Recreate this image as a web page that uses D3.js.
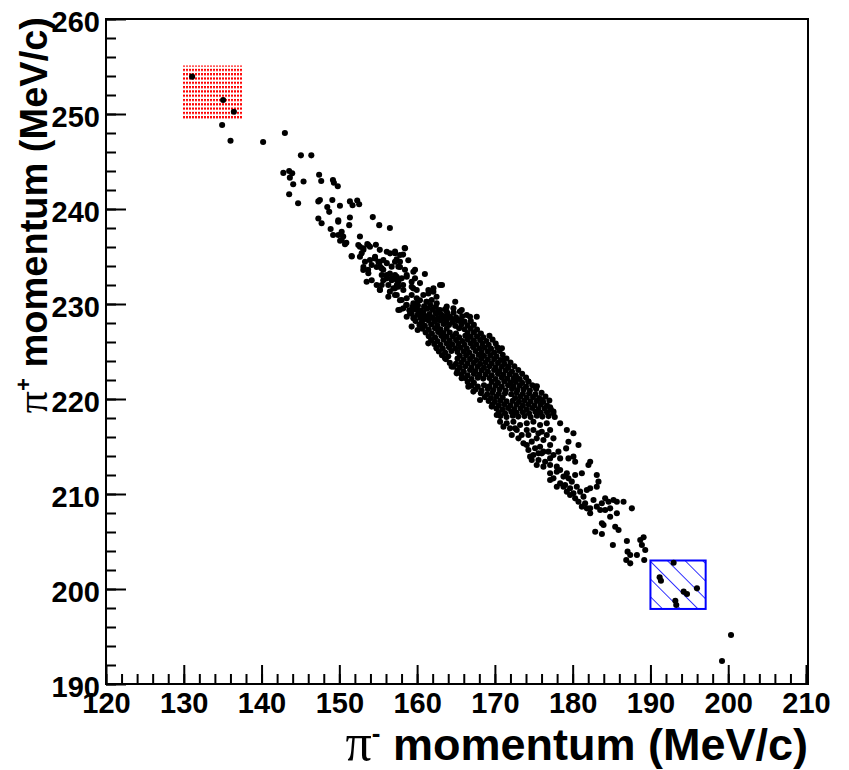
<!DOCTYPE html>
<meta charset="utf-8">
<style>
  body { margin: 0; background: #fff; }
  svg { display: block; }
  .axis text { font: bold 29px "Liberation Sans", Arial, sans-serif; fill: #000; }
  .axis line { stroke: #000; stroke-width: 2px; }
  .title { font-family: "Liberation Sans", Arial, sans-serif; font-weight: bold; fill: #000; }
  .pi { font-family: "Liberation Serif", "DejaVu Serif", serif; font-weight: normal; }
</style>
<svg width="849" height="770"></svg>
<script src="https://cdn.jsdelivr.net/npm/d3@7"></script>
<script>

    // pi- momentum vs pi+ momentum (MeV/c)
    var upperTail = [
        [131.07,253.93],[135.06,251.47],[136.44,250.24],[134.93,248.84],[136.01,247.19],[140.2,247.05],
        [143.0,248.0],[145.06,245.65],[146.4,245.65],[142.8,243.8],[143.55,244.0],[143.94,243.76],
        [143.64,243.3],[144.07,242.6],[145.4,242.9],[147.4,243.6],[147.67,242.95],[149.18,243.05],
        [149.3,242.77],[149.8,242.4],[143.55,241.55],[144.7,240.6],[147.3,240.8],[147.5,240.95],
        [149.1,240.95],[148.45,240.2],[148.7,239.7],[150.08,240.35],[151.36,240.8],[151.7,240.4],
        [152.3,240.9],[152.55,240.5],[147.3,239.0],[149.86,238.8],[151.36,239.1],[154.3,239.15]
    ];

    var upperBand = [
        [147.72,238.5],[148.88,237.9],[149.86,238.66],[151.27,238.3],[155.13,238.3],[156.5,238.0],
        [149.2,237.26],[150.3,237.6],[150.5,237.1],[150.1,236.66],[150.9,236.45],[152.65,237.1],
        [152.65,236.03],[153.6,236.3],[153.94,236.03],[153.1,235.7],[154.7,236.24],[155.2,235.7],
        [156.1,235.5],[157.16,235.34],[158.4,235.9],[151.6,235.0],
        [152.65,234.98],[153.3,234.45],[154.58,234.8],[155.2,234.45],[154.8,233.9],[156.1,234.3],
        [157.37,234.7],[158.2,235.2],[158.87,234.6],[153.1,233.9],[153.7,233.6],[155.65,233.6],
        [156.5,233.2],[157.8,233.9],[158.44,233.6],[159.73,233.6],[161.0,233.16],[158.66,232.87],
        [155.65,232.5],[156.73,232.5],[157.58,232.35],[154.16,232.5],[154.8,232.0],[155.2,231.5],
        [156.5,231.3],[157.15,231.65],[158.2,232.0],[159.3,232.35],[159.5,231.65],[160.37,232.2],
        [162.1,231.65],[163.2,232.0],[161.45,231.1],[162.5,230.77],[160.37,230.4],[161.2,230.24],
        [158.66,230.6],[159.3,230.95],[157.8,230.4],[164.9,230.24],[157.8,229.4],[159.1,229.0],
        [159.95,229.4],[161.2,229.55],[162.5,229.0],[163.8,229.2],[165.5,229.2],[166.8,228.66],
        [164.66,228.3],[162.95,228.3],[160.8,228.66],
        [156.1,232.7],[157.16,233.05],[156.3,232.0],[157.4,232.0],[155.45,233.05],
        [155.23,233.93],[156.73,233.93],[157.16,234.45],[153.94,234.63],[157.38,232.87],
        [156.3,230.77],[157.16,230.95],[158.66,229.89],[159.95,230.07],
        [149.87,237.26],[150.3,236.74],[150.73,236.3],[152.44,236.21],[153.08,235.86],[153.73,236.21],
        [152.87,235.33],[151.58,235.05],[154.59,234.98],[155.02,234.45],[155.66,234.63],[154.16,234.1],
        [155.45,233.75],[156.52,235.33],[157.16,235.51],[157.8,235.16],[158.45,235.86],[157.8,234.45],
        [157.59,233.93],[156.09,233.05],[156.73,232.7],[157.38,232.52],[158.02,232.7],[158.66,233.05],
        [156.95,231.65],[157.59,231.82],[158.23,231.47],[159.52,233.4],[159.73,232.7],[159.3,231.82],
        [159.95,231.47],[160.8,230.95],[161.45,231.47],[162.09,231.3],[162.95,232.0],[155.23,231.47],
        [155.45,232.0],[153.51,232.35],[153.08,233.58],[153.73,233.23],[157.38,230.95],[158.02,230.42],
        [159.52,230.07],[159.95,230.6],[161.24,230.24],[161.88,230.42],[162.52,230.07],[162.95,229.37],
        [163.81,229.72],[164.67,229.54],[165.74,229.37],[166.38,228.84],[167.67,228.66],[160.38,229.02],
        [159.3,229.37],[158.23,229.54],[157.59,229.37],[158.66,228.66],[159.52,228.49],[160.81,228.32],
        [162.09,228.49],[163.38,228.49],[164.24,228.66],[165.53,228.32]
    ];

    var coreBand = [
        [158.6,229.9],[159.4,229.7],[160.1,229.85],[160.9,229.75],[161.7,229.9],[162.4,229.7],
        [159.0,229.35],[159.8,229.45],[160.5,229.3],[161.3,229.5],[162.0,229.4],[162.8,229.3],[163.6,229.45],
        [159.3,229.0],[160.1,228.9],[160.8,229.1],[161.6,228.95],[162.4,229.05],[163.1,228.9],[163.9,229.0],[164.7,229.1],
        [159.6,228.6],[160.4,228.55],[161.2,228.7],[161.9,228.6],[162.7,228.5],[163.5,228.65],[164.2,228.55],[165.0,228.6],[165.8,228.7],
        [159.8,228.2],[160.6,228.1],[161.5,228.25],[162.3,228.15],[163.0,228.3],[163.8,228.2],[164.6,228.1],[165.3,228.25],[166.1,228.15],[166.9,228.2],
        [160.3,227.8],[161.0,227.7],[161.8,227.85],[162.6,227.75],[163.4,227.9],[164.1,227.8],[164.9,227.7],[165.7,227.85],[166.5,227.75],[167.3,227.8],
        [160.7,227.4],[161.5,227.3],[162.3,227.45],[163.0,227.35],[163.8,227.4],[165.4,227.45],[166.1,227.35],[166.9,227.4],[167.7,227.3],
        [161.1,227.0],[161.9,226.9],[162.7,227.05],[163.4,226.95],[164.2,227.0],[165.0,226.9],[166.5,226.95],[167.3,227.0],[168.2,226.9],
        [161.5,226.6],[162.3,226.5],[163.1,226.65],[163.8,226.55],[164.6,226.6],[165.4,226.5],[166.2,226.65],[166.9,226.55],[167.7,226.6],[168.5,226.5],[169.3,226.65],
        [161.8,226.2],[162.6,226.1],[163.4,226.25],[164.2,226.15],[165.0,226.2],[165.8,226.1],[166.5,226.25],[167.3,226.15],[168.1,226.2],[168.9,226.1],[169.7,226.25],
        [162.2,225.8],[163.0,225.7],[163.8,225.85],[164.5,225.75],[165.3,225.8],[166.1,225.7],[166.9,225.85],[167.6,225.75],[168.4,225.8],[169.2,225.7],[170.1,225.85],
        [162.5,225.4],[163.3,225.3],[164.1,225.45],[164.9,225.35],[165.6,225.4],[166.4,225.3],[167.2,225.45],[168.0,225.35],[168.7,225.4],[169.5,225.3],[170.3,225.45],[170.9,225.35],
        [162.8,225.0],[163.6,224.9],[164.4,225.05],[165.2,224.95],[166.0,225.0],[166.7,224.9],[167.5,225.05],[168.3,224.95],[169.1,225.0],[169.9,224.9],[170.6,225.05],
        [163.2,224.6],[164.0,224.5],[165.5,224.55],[166.3,224.6],[167.1,224.5],[167.9,224.65],[168.6,224.55],[169.4,224.6],[170.2,224.5],[171.0,224.65],
        [163.7,224.2],[165.2,224.25],[166.0,224.15],[166.8,224.2],[167.6,224.1],[168.3,224.25],[169.1,224.15],[169.9,224.2],[170.7,224.1],[171.5,224.25],
        [164.2,223.8],[165.0,223.7],[165.7,223.85],[166.5,223.75],[167.3,223.8],[168.1,223.7],[168.8,223.85],[169.6,223.75],[170.4,223.8],[171.2,223.7],[172.0,223.85],
        [164.7,223.4],[165.5,223.3],[166.2,223.45],[167.0,223.35],[167.8,223.4],[168.6,223.3],[169.3,223.45],[170.1,223.35],[170.9,223.4],[171.7,223.3],[172.5,223.45],
        [165.2,223.0],[166.0,222.9],[166.8,223.05],[167.5,222.95],[168.3,223.0],[169.1,222.9],[169.9,223.05],[170.6,222.95],[171.4,223.0],[172.2,222.9],[173.0,223.05],
        [165.7,222.6],[166.5,222.5],[167.3,222.65],[168.0,222.55],[168.8,222.6],[169.6,222.5],[170.4,222.65],[171.1,222.55],[171.9,222.6],[172.7,222.5],[173.5,222.65],
        [166.2,222.2],[167.0,222.1],[167.8,222.25],[168.5,222.15],[169.3,222.2],[170.1,222.1],[170.9,222.25],[171.6,222.15],[172.4,222.2],[173.2,222.1],[174.0,222.25],
        [166.5,221.8],[167.3,221.7],[169.6,221.8],[170.4,221.7],[171.2,221.85],[172.0,221.75],[172.7,221.8],[173.5,221.7],[174.3,221.85],
        [167.0,221.4],[167.8,221.3],[168.6,221.45],[169.3,221.35],[170.1,221.4],[170.9,221.3],[171.7,221.45],[172.4,221.35],[173.2,221.4],[174.0,221.3],[174.8,221.45],[175.4,221.35],
        [167.5,221.0],[168.3,220.9],[169.1,221.05],[169.8,220.95],[170.6,221.0],[171.4,220.9],[172.2,221.05],[172.9,220.95],[173.7,221.0],[174.5,220.9],[175.3,221.05],
        [168.2,220.6],[169.0,220.5],[169.7,220.65],[170.5,220.55],[171.3,220.6],[172.1,220.5],[172.8,220.65],[173.6,220.55],[174.4,220.6],[175.2,220.5],[176.0,220.65],
        [168.7,220.2],[169.5,220.1],[170.2,220.25],[171.0,220.15],[172.6,220.1],[173.3,220.25],[174.1,220.15],[174.9,220.2],[175.7,220.1],[176.5,220.25],
        [169.2,219.8],[170.0,219.7],[170.7,219.85],[171.5,219.75],[172.3,219.8],[173.1,219.7],[173.8,219.85],[174.6,219.75],[175.4,219.8],[176.2,219.7],[177.0,219.85],
        [169.7,219.4],[170.5,219.3],[171.2,219.45],[172.0,219.35],[172.8,219.4],[173.6,219.3],[174.3,219.45],[175.1,219.35],[175.9,219.4],[176.7,219.3],
        [170.2,219.0],[171.0,218.9],[171.7,219.05],[172.5,218.95],[173.3,219.0],[174.1,218.9],[174.8,219.05],[175.6,218.95],[176.4,219.0],[177.2,218.9],
        [170.5,218.6],[171.3,218.5],[172.1,218.65],[172.8,218.55],[173.6,218.6],[174.4,218.5],[175.2,218.65],[175.9,218.55],[176.7,218.6],[177.5,218.5],
        [170.7,218.2],[171.5,218.1],[172.3,218.25],[173.0,218.15],[173.8,218.2],[174.6,218.1],[175.4,218.25],[176.1,218.15],[176.9,218.2],[177.7,218.1],
        // ragged edges
        [170.45,225.34],[171.09,224.11],[171.74,223.41],[172.81,222.18],[174.31,221.83],[175.17,221.3],
        [176.03,219.9],[177.1,219.13],[177.53,218.67],
        [159.3,227.62],[160.07,227.27],[161.44,225.86],[162.5,225.34],[163.59,224.28],[164.44,223.41],
        [165.09,222.7],[165.73,222.18],[166.59,221.3],[167.23,220.78],[168.09,219.9],[169.59,219.2],[170.24,218.32]
    ];

    var lowerBand = [
        [170.67,217.6],[171.52,217.44],[172.38,217.6],[173.24,217.26],[174.1,217.44],[174.95,217.6],
        [175.81,217.26],[176.67,217.44],[177.1,216.74],[176.03,216.56],[174.95,216.74],[172.81,216.74],
        [171.95,216.91],[173.45,216.21],[174.74,215.51],[175.81,214.98],[174.53,213.93],[175.38,213.05],
        [176.03,214.28],[174.1,215.16],
        [178.39,217.44],[179.25,216.74],[180.1,216.39],[180.75,215.16],[179.46,215.5],[179.16,214.8],
        [178.17,214.46],[177.1,215.16],[176.24,215.68],[175.38,215.86],[174.31,216.21],[173.67,215.33],
        [174.31,214.63],[174.95,214.1],[175.6,213.58],[176.46,213.4],[177.1,213.75],[177.53,214.1],
        [178.39,213.75],[179.46,213.75],[180.32,213.4],[180.1,213.93],[182.25,213.4],[182.03,213.05],
        [183.1,212.0],[181.18,212.18],[180.32,212.0],[179.25,212.18],[178.82,211.83],[177.96,212.35],
        [177.1,212.18],[177.53,211.65],[178.39,211.12],[178.82,210.77],[179.25,210.25],[179.67,209.9],
        [180.32,209.54],[179.03,210.95],[179.89,211.3],[180.53,210.77],[181.82,210.42],[183.32,211.3],
        [183.1,210.77],[182.25,210.6],[181.39,209.72],[181.6,209.02],[181.82,208.49],[182.25,207.97],
        [183.1,208.67],[184.18,209.54],[184.61,209.19],[184.82,208.49],[184.18,208.32],[183.54,208.32],
        [185.25,209.37],[186.54,209.19],[187.61,208.49],[185.68,207.97],[184.82,207.61],
        [171.1,217.09],[172.6,216.91],[174.1,216.74],[175.6,216.39],[176.67,216.21],[177.53,215.86],
        [173.03,215.86],[172.17,216.21],[175.17,214.81],[176.24,214.46],[176.89,214.46],[175.6,214.28],
        [174.74,213.58],[176.24,212.88],[177.1,213.05],[177.96,212.88],[178.39,212.53],[179.46,211.65],
        [177.1,211.47],[177.96,210.77],[179.67,210.6],[180.1,210.07],[180.96,210.25],[180.75,209.19],
        [181.18,208.67],[182.68,209.37],[183.75,209.02],[185.68,209.19],[182.25,208.49]
    ];

    var lowerTail = [
        [183.76,206.91],[183.97,206.73],[182.9,206.03],[183.76,205.79],[185.47,206.56],[185.9,206.21],
        [185.17,204.63],[186.97,205.05],[188.69,205.16],[189.12,205.44],[188.9,204.63],[189.33,204.1],
        [187.06,203.93],[187.4,203.58],[188.26,203.58],[186.89,203.05],[187.4,202.7],[189.2,203.05],
        [192.98,202.77],[191.18,201.23],[191.35,200.87],[194.27,199.72],[194.7,199.47],[195.98,200.07],
        [193.2,198.77],[193.32,198.31],
        [200.36,195.16],[199.2,192.42]
    ];

    // selection boxes [x0, x1, y0, y1]
    var redBox = [129.9, 137.5, 249.4, 255.1];
    var blueBox = [190.0, 197.1, 197.9, 203.0];

    var xMajor = d3.range(120, 211, 10);
    var xMinor = d3.range(120, 211, 2);
    var yMajor = d3.range(190, 261, 10);
    var yMinor = d3.range(190, 261, 2);

    var events = upperTail.concat(upperBand, coreBand, lowerBand, lowerTail);

    var svg = d3.select("svg");

    var x = d3.scaleLinear().domain([120, 210]).range([106, 806]);
    var y = d3.scaleLinear().domain([190, 260]).range([684, 19]);

    var defs = svg.append("defs");

    // red dotted fill
    var dots = defs.append("pattern")
        .attr("id", "reddots")
        .attr("patternUnits", "userSpaceOnUse")
        .attr("width", 3).attr("height", 4.3);
    dots.append("rect").attr("x", 0).attr("y", 0).attr("width", 2).attr("height", 2.2).attr("fill", "#ff0000");

    // blue hatch
    var hatch = defs.append("pattern")
        .attr("id", "bluehatch")
        .attr("patternUnits", "userSpaceOnUse")
        .attr("width", 12.5).attr("height", 12.5)
        .attr("patternTransform", "rotate(-45)");
    hatch.append("line")
        .attr("x1", 0).attr("y1", 0).attr("x2", 0).attr("y2", 12.5)
        .attr("stroke", "#0000ff").attr("stroke-width", 1.6);

    // boxes behind the points
    svg.append("rect")
        .attr("x", x(redBox[0])).attr("y", y(redBox[3]))
        .attr("width", x(redBox[1]) - x(redBox[0]))
        .attr("height", y(redBox[2]) - y(redBox[3]))
        .attr("fill", "url(#reddots)");

    svg.append("rect")
        .attr("x", x(blueBox[0])).attr("y", y(blueBox[3]))
        .attr("width", x(blueBox[1]) - x(blueBox[0]))
        .attr("height", y(blueBox[2]) - y(blueBox[3]))
        .attr("fill", "url(#bluehatch)")
        .attr("stroke", "#0000ff")
        .attr("stroke-width", 2);

    svg.append("g")
        .selectAll("circle")
        .data(events)
        .enter().append("circle")
        .attr("cx", function(d) { return x(d[0]); })
        .attr("cy", function(d) { return y(d[1]); })
        .attr("r", 3.05)
        .attr("fill", "#000");

    // minor ticks
    svg.append("g")
        .attr("class", "axis")
        .attr("transform", "translate(0,684)")
        .call(d3.axisBottom(x).tickValues(xMinor).tickSize(-10).tickFormat(""))
        .call(function(g) { g.select(".domain").remove(); });

    svg.append("g")
        .attr("class", "axis")
        .attr("transform", "translate(106,0)")
        .call(d3.axisLeft(y).tickValues(yMinor).tickSize(-10).tickFormat(""))
        .call(function(g) { g.select(".domain").remove(); });

    // major ticks + labels
    svg.append("g")
        .attr("class", "axis")
        .attr("transform", "translate(0,684)")
        .call(d3.axisBottom(x).tickValues(xMajor).tickSize(-19).tickPadding(8).tickFormat(d3.format("d")))
        .call(function(g) { g.select(".domain").remove(); });

    svg.append("g")
        .attr("class", "axis")
        .attr("transform", "translate(106,0)")
        .call(d3.axisLeft(y).tickValues(yMajor).tickSize(-20).tickPadding(6).tickFormat(d3.format("d")))
        .call(function(g) {
            g.select(".domain").remove();
            g.selectAll("text").attr("dy", "0.42em");
        });

    // frame
    svg.append("rect")
        .attr("x", 106).attr("y", 19)
        .attr("width", 808 - 106).attr("height", 684 - 19)
        .attr("fill", "none")
        .attr("stroke", "#000")
        .attr("stroke-width", 2);

    // axis titles
    var xt = svg.append("text")
        .attr("class", "title")
        .attr("font-size", "45px")
        .attr("x", 808).attr("y", 760)
        .attr("text-anchor", "end");
    xt.append("tspan").attr("class", "pi").attr("font-size", "52px").text("π");
    xt.append("tspan").attr("font-size", "26px").attr("dy", -18).text("-");
    xt.append("tspan").attr("dy", 18).text(" momentum (MeV/c)");

    var yt = svg.append("text")
        .attr("class", "title")
        .attr("font-size", "38px")
        .attr("transform", "translate(47,17) rotate(-90)")
        .attr("text-anchor", "end");
    yt.append("tspan").attr("class", "pi").attr("font-size", "44px").text("π");
    yt.append("tspan").attr("font-size", "22px").attr("dy", -16).text("+");
    yt.append("tspan").attr("dy", 16).text(" momentum (MeV/c)");

</script>
